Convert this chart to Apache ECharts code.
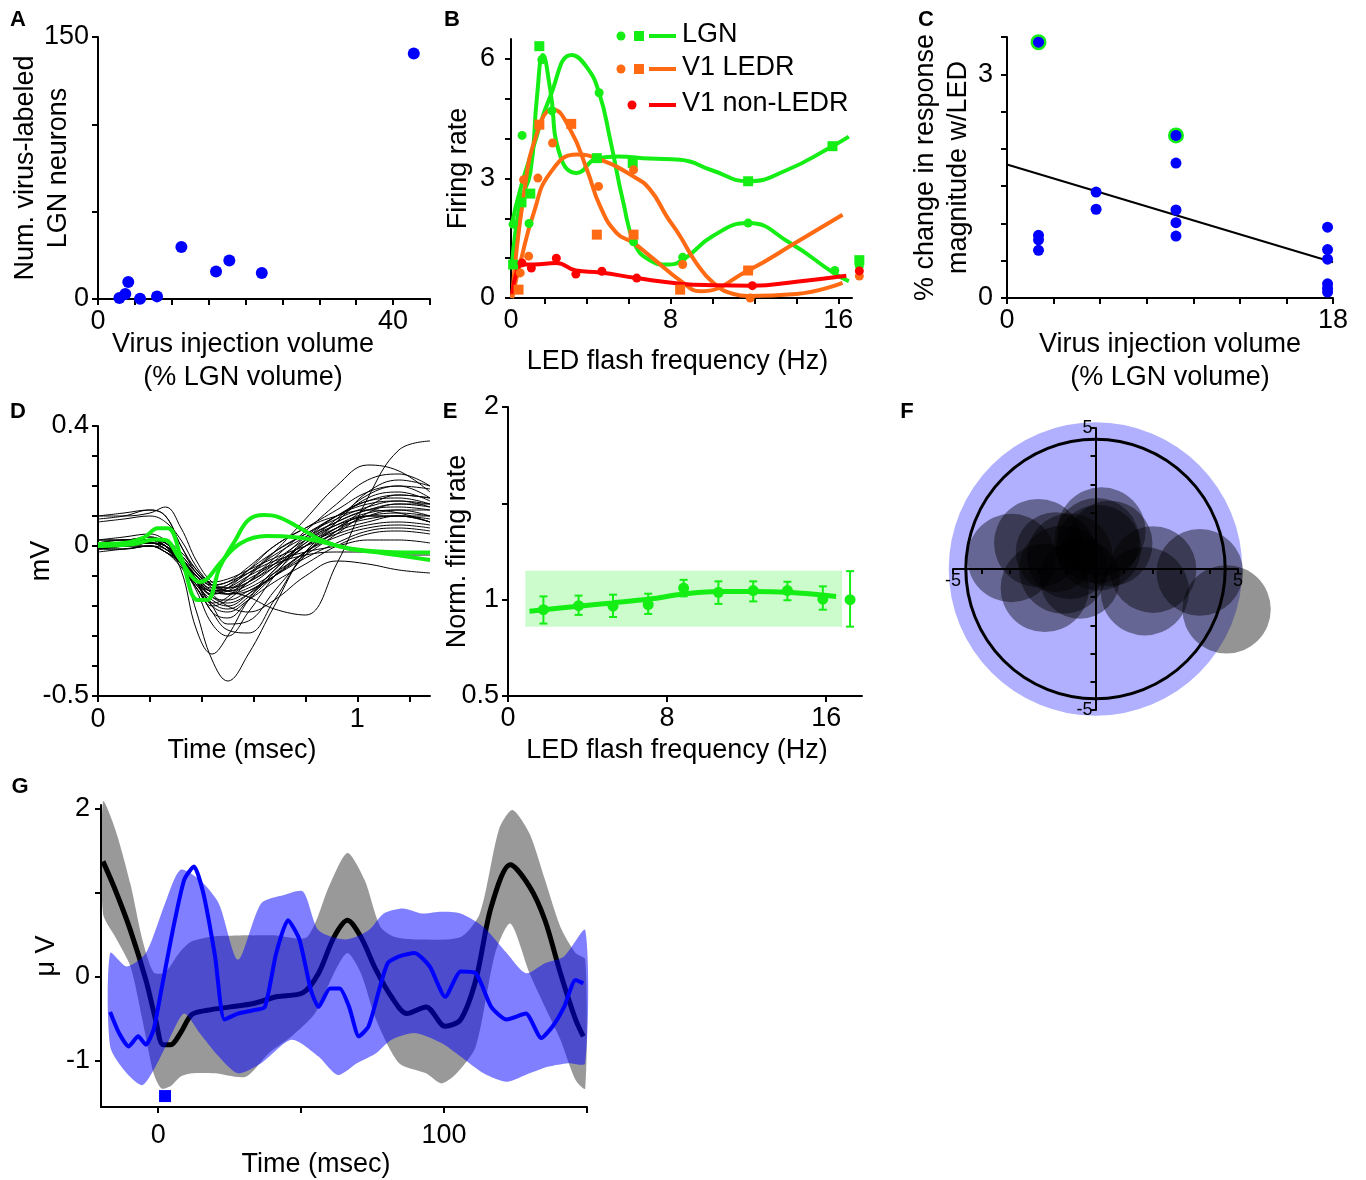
<!DOCTYPE html>
<html>
<head>
<meta charset="utf-8">
<title>LGN / V1 figure</title>
<script src="https://cdn.jsdelivr.net/npm/echarts@6/dist/echarts.min.js"></script>
<style>
  html, body { margin: 0; background: #fff; }
  #chart { width: 1366px; height: 1180px; }
</style>
</head>
<body>
<div id="chart"></div>
<script>
// ---- panel A: injection volume vs labelled neurons
const A_X = [42.8, 11.3, 16.0, 17.8, 22.2, 4.1, 3.7, 2.9, 5.7, 8.0]
const A_Y = [140.5, 29.8, 15.8, 22.1, 14.9, 9.7, 2.9, 0.6, 0.2, 1.5]

// ---- panel B: firing rate vs LED frequency (fits + points)
const B_LGN_FIT1_X = [0.45, 0.84, 1.48, 2.27, 3.3, 4.0, 4.6, 5.13, 5.76, 6.3, 7.0, 7.8, 8.6, 10.0, 11.7, 13.7, 15.8, 16.5]
const B_LGN_FIT1_Y = [1.88, 2.72, 3.81, 5.06, 6.1, 5.8, 5.15, 3.97, 2.38, 1.35, 0.95, 0.84, 0.96, 1.55, 1.88, 1.38, 0.62, 0.42]
const B_LGN_FIT2_X = [0.45, 0.84, 1.32, 1.64, 1.92, 2.27, 2.75, 3.54, 4.5, 5.5, 7.0, 8.46, 10.0, 11.7, 13.5, 15.72, 16.5]
const B_LGN_FIT2_Y = [0.84, 2.38, 3.14, 5.06, 6.1, 5.23, 3.56, 3.14, 3.5, 3.55, 3.5, 3.47, 3.2, 2.93, 3.2, 3.81, 4.05]
const B_LEDR_FIT1_X = [0.45, 1.0, 1.64, 2.4, 3.22, 4.02, 4.65, 5.44, 6.24, 7.03, 8.61, 9.4, 11.7, 14.0, 16.2]
const B_LEDR_FIT1_Y = [0.0, 2.55, 4.14, 4.73, 4.23, 3.22, 2.3, 1.63, 1.38, 1.05, 0.38, 0.17, 0.69, 1.4, 2.09]
const B_LEDR_FIT2_X = [0.45, 0.84, 1.48, 2.27, 3.54, 4.65, 6.24, 7.03, 7.82, 8.46, 9.2, 10.04, 11.0, 11.7, 14.0, 16.2]
const B_LEDR_FIT2_Y = [0.0, 0.88, 2.13, 3.14, 3.6, 3.47, 3.05, 2.72, 2.05, 1.55, 0.9, 0.38, 0.1, 0.05, 0.1, 0.38]
const B_NON_FIT_X = [0.45, 0.7, 0.92, 1.48, 2.56, 3.49, 4.65, 6.39, 8.46, 10.04, 11.9, 14.0, 16.38]
const B_NON_FIT_Y = [0.1, 0.7, 0.84, 0.84, 0.88, 0.69, 0.64, 0.5, 0.36, 0.32, 0.31, 0.41, 0.56]

const B_LGN_DOT_X = [0.5, 0.93, 1.26, 1.87, 2.35, 4.6, 6.24, 8.58, 11.7, 15.83, 17.0]
const B_LGN_DOT_Y = [1.85, 4.08, 1.87, 5.98, 4.7, 5.15, 1.41, 1.02, 1.88, 0.69, 0.8]
const B_LGN_SQ_X = [0.5, 0.9, 1.32, 1.75, 4.49, 6.2, 11.7, 15.72, 17.0]
const B_LGN_SQ_Y = [0.84, 2.4, 2.62, 6.32, 3.51, 3.39, 2.93, 3.81, 0.95]
const B_LEDR_DOT_X = [0.84, 1.0, 1.24, 1.68, 2.38, 4.57, 6.24, 8.58, 11.8, 17.0]
const B_LEDR_DOT_Y = [0.63, 2.97, 1.05, 3.01, 3.89, 2.8, 3.22, 0.84, 0.0, 0.55]
const B_LEDR_SQ_X = [0.76, 1.75, 3.27, 4.49, 6.24, 8.46, 11.7]
const B_LEDR_SQ_Y = [0.21, 4.35, 4.37, 1.59, 1.59, 0.21, 0.69]
const B_NON_DOT_X = [0.92, 1.37, 2.56, 3.49, 4.73, 6.39, 11.9, 17.0]
const B_NON_DOT_Y = [0.88, 0.75, 1.0, 0.6, 0.67, 0.5, 0.31, 0.68]

// ---- panel C: % change vs injection volume
const C_X = [1.74, 1.74, 1.74, 1.74, 4.92, 4.92, 9.33, 9.33, 9.33, 9.33, 9.33, 17.7, 17.7, 17.7, 17.7, 17.7, 17.7]
const C_Y = [3.43, 0.84, 0.78, 0.64, 1.42, 1.19, 2.18, 1.81, 1.18, 1.01, 0.83, 0.95, 0.65, 0.52, 0.19, 0.13, 0.08]
const C_RING_X = [1.74, 9.33]
const C_RING_Y = [3.43, 2.18]
const C_FIT_X = [0, 18]
const C_FIT_Y = [1.79, 0.48]

// ---- panel D: spike waveforms (ms / mV)
const D_T = [0, 0.1, 0.2, 0.26, 0.32, 0.38, 0.44, 0.5, 0.58, 0.68, 0.8, 0.92, 1.04, 1.16, 1.28]
const D_TRACES = [
  [0.1, 0.11, 0.12, 0.1, 0.0, -0.08, -0.13, -0.15, -0.17, -0.21, -0.23, -0.06, 0.16, 0.32, 0.35],
  [0.09, 0.1, 0.12, 0.1, 0.0, -0.09, -0.13, -0.14, -0.1, -0.02, 0.09, 0.2, 0.27, 0.25, 0.18],
  [0.0, 0.0, 0.01, 0.0, -0.06, -0.22, -0.38, -0.45, -0.36, -0.2, -0.02, 0.06, 0.1, 0.1, 0.08],
  [0.01, 0.01, 0.02, 0.0, -0.08, -0.28, -0.36, -0.3, -0.18, -0.08, 0.0, 0.05, 0.08, 0.1, 0.1],
  [-0.01, 0.0, 0.0, -0.02, -0.06, -0.14, -0.22, -0.28, -0.29, -0.18, -0.02, 0.06, 0.1, 0.1, 0.08],
  [0.0, 0.01, 0.02, 0.0, -0.06, -0.14, -0.2, -0.18, -0.12, -0.04, 0.05, 0.14, 0.22, 0.24, 0.2],
  [0.02, 0.02, 0.03, 0.01, -0.05, -0.12, -0.16, -0.14, -0.08, 0.0, 0.06, 0.12, 0.18, 0.2, 0.16],
  [-0.01, 0.0, 0.01, -0.01, -0.06, -0.13, -0.18, -0.2, -0.16, -0.08, 0.02, 0.08, 0.12, 0.13, 0.12],
  [0.0, 0.0, 0.01, 0.0, -0.04, -0.1, -0.15, -0.16, -0.12, -0.05, 0.02, 0.07, 0.1, 0.11, 0.1],
  [0.01, 0.01, 0.02, 0.0, -0.05, -0.11, -0.14, -0.13, -0.09, -0.03, 0.03, 0.08, 0.12, 0.14, 0.13],
  [-0.02, -0.01, 0.0, -0.02, -0.07, -0.14, -0.19, -0.17, -0.1, -0.02, 0.04, 0.09, 0.13, 0.15, 0.14],
  [0.0, 0.01, 0.02, 0.01, -0.03, -0.09, -0.12, -0.11, -0.08, -0.04, 0.0, 0.04, 0.07, 0.08, 0.07],
  [0.01, 0.02, 0.02, 0.0, -0.05, -0.12, -0.22, -0.24, -0.18, -0.1, -0.02, 0.03, 0.06, 0.07, 0.06],
  [0.0, 0.0, 0.0, -0.02, -0.06, -0.12, -0.17, -0.18, -0.15, -0.1, -0.04, 0.01, 0.05, 0.06, 0.05],
  [-0.01, -0.01, 0.0, -0.02, -0.05, -0.1, -0.13, -0.12, -0.09, -0.05, -0.02, 0.0, 0.02, 0.02, 0.01],
  [0.01, 0.01, 0.01, 0.0, -0.04, -0.1, -0.16, -0.2, -0.22, -0.18, -0.1, -0.05, -0.06, -0.08, -0.09],
  [0.0, 0.0, 0.01, -0.01, -0.05, -0.11, -0.15, -0.14, -0.1, -0.06, -0.03, -0.02, -0.02, -0.03, -0.03],
  [0.02, 0.03, 0.04, 0.02, -0.02, -0.08, -0.13, -0.15, -0.13, -0.07, 0.01, 0.07, 0.11, 0.12, 0.1],
  [0.0, 0.01, 0.02, 0.0, -0.06, -0.13, -0.19, -0.21, -0.17, -0.09, 0.0, 0.06, 0.09, 0.1, 0.09],
  [-0.01, 0.0, 0.02, 0.01, -0.03, -0.09, -0.14, -0.16, -0.14, -0.09, -0.02, 0.05, 0.13, 0.17, 0.16],
  [0.0, 0.01, 0.02, 0.0, -0.04, -0.11, -0.17, -0.19, -0.16, -0.1, -0.03, 0.04, 0.11, 0.14, 0.14],
  [0.01, 0.02, 0.02, 0.01, -0.04, -0.1, -0.13, -0.12, -0.07, 0.0, 0.06, 0.1, 0.12, 0.11, 0.08],
  [0.1, 0.1, 0.11, 0.13, 0.06, -0.05, -0.12, -0.14, -0.12, -0.06, 0.03, 0.1, 0.14, 0.15, 0.13],
  [0.08, 0.09, 0.1, 0.08, 0.02, -0.07, -0.13, -0.16, -0.15, -0.1, -0.02, 0.05, 0.1, 0.12, 0.12],
  [0.0, 0.0, 0.01, -0.01, -0.06, -0.15, -0.26, -0.3, -0.22, -0.1, 0.02, 0.1, 0.15, 0.16, 0.14],
  [0.01, 0.01, 0.02, 0.0, -0.05, -0.12, -0.2, -0.26, -0.25, -0.15, -0.03, 0.08, 0.16, 0.18, 0.15],
  [0.0, 0.0, 0.01, 0.0, -0.04, -0.12, -0.16, -0.15, -0.11, -0.06, 0.01, 0.09, 0.17, 0.2, 0.19],
  [-0.01, -0.01, 0.0, -0.01, -0.05, -0.12, -0.15, -0.13, -0.08, -0.02, 0.04, 0.1, 0.15, 0.17, 0.16],
  [0.0, 0.0, 0.02, 0.0, -0.05, -0.12, -0.2, -0.22, -0.18, -0.12, -0.06, 0.0, 0.04, 0.05, 0.04],
  [0.02, 0.02, 0.03, 0.01, -0.04, -0.11, -0.15, -0.15, -0.12, -0.07, 0.0, 0.08, 0.18, 0.22, 0.2]
]
const D_GREEN1_T = [0, 0.1, 0.18, 0.23, 0.27, 0.32, 0.385, 0.42, 0.47, 0.53, 0.58, 0.64, 0.69, 0.78, 0.86, 0.96, 1.1, 1.28]
const D_GREEN1_V = [0.007, 0.01, 0.03, 0.059, 0.059, -0.036, -0.18, -0.18, -0.07, 0.02, 0.087, 0.103, 0.098, 0.059, 0.02, -0.008, -0.024, -0.047]
const D_GREEN2_T = [0, 0.14, 0.22, 0.26, 0.31, 0.36, 0.39, 0.42, 0.47, 0.55, 0.65, 0.76, 0.86, 0.97, 1.1, 1.28]
const D_GREEN2_V = [0, 0.007, 0.022, 0.02, -0.036, -0.1, -0.12, -0.11, -0.058, 0.009, 0.033, 0.029, 0.014, -0.008, -0.019, -0.022]

// ---- panel E: normalised firing rate
const E_X = [1.78, 3.55, 5.28, 7.05, 8.83, 10.58, 12.33, 14.05, 15.83, 17.2]
const E_Y = [0.948, 0.969, 0.966, 0.974, 1.06, 1.038, 1.047, 1.047, 1.003, 1.0]
const E_LO = [0.876, 0.921, 0.91, 0.926, 1.017, 0.978, 0.991, 0.997, 0.948, 0.86]
const E_HI = [1.017, 1.021, 1.026, 1.031, 1.103, 1.095, 1.095, 1.093, 1.069, 1.148]
const E_FIT_X = [1.08, 3.55, 5.25, 7.1, 8.83, 10.58, 12.33, 14.05, 16.5]
const E_FIT_Y = [0.94, 0.966, 0.983, 1.003, 1.029, 1.043, 1.043, 1.038, 1.017]
const E_BAND_X = [0.87, 16.8]
const E_BAND_Y = [0.86, 1.15]

// ---- panel F: receptive fields (centre x, centre y, radius, deg)
const F_X = [4.6, 3.66, 2.02, 1.73, 0.21, 0.05, 0.1, -2.95, -2.01, -1.78, -1.13, -0.9, -0.55, -1.4, 0.5]
const F_Y = [-1.43, -0.12, -0.02, -0.79, 1.33, 1.0, 0.75, 0.39, 0.92, -0.67, -0.02, 0.45, -0.35, 0.6, 0.9]
const F_R = [1.55, 1.52, 1.52, 1.55, 1.55, 1.5, 1.5, 1.55, 1.55, 1.55, 1.55, 1.5, 1.4, 1.4, 1.5]
const F_DISK_R = 5.15
const F_RING_R = 4.55

// ---- panel G: LFP traces (msec / uV)
const G_BLACK_X = [-19.3, -15, -9.7, -4.3, -0.9, 1.7, 4.4, 7.8, 11.8, 17.2, 25.2, 33.3, 41.3, 50.7, 56.1, 61.5, 66.2, 70.9, 76.2, 81.6, 87, 93.7, 100.4, 105.8, 111.1, 116.5, 123.2, 129.9, 135.3, 140.7, 146, 148.7]
const G_BLACK_Y = [1.37, 1.03, 0.55, -0.04, -0.51, -0.81, -0.81, -0.67, -0.45, -0.4, -0.36, -0.32, -0.24, -0.19, 0.04, 0.47, 0.67, 0.47, 0.08, -0.24, -0.44, -0.36, -0.59, -0.51, -0.04, 0.83, 1.33, 1.07, 0.67, 0.04, -0.51, -0.71]
const G_GRAY_UP_X = [-19.3, -15, -9.7, -5.6, -1.6, 2.4, 7.8, 11.8, 19.9, 28.6, 33.3, 41.3, 52.1, 60.1, 66.2, 72.2, 77.6, 82.9, 92.3, 105.8, 112.5, 119.2, 123.9, 129.9, 135.3, 140.7, 146, 149.4]
const G_GRAY_UP_Y = [2.08, 1.75, 1.1, 0.45, 0.05, 0.05, 0.3, 0.42, 0.48, 0.49, 0.49, 0.49, 0.47, 1.1, 1.47, 1.15, 0.6, 0.47, 0.44, 0.47, 0.75, 1.75, 1.98, 1.7, 1.15, 0.59, 0.28, 0.2]
const G_GRAY_LO_X = [-19.3, -15, -9.7, -5.6, -1.6, 1.1, 4.4, 7.8, 11.8, 19.9, 30.6, 38.7, 46.7, 54.8, 61.5, 66.2, 70.9, 76.2, 84.3, 93.7, 99.1, 104.4, 111.1, 117.9, 123.2, 129.9, 135.3, 140.7, 146, 149.4]
const G_GRAY_LO_Y = [0.75, 0.47, 0.12, -0.5, -1.15, -1.33, -1.3, -1.19, -1.15, -1.15, -1.19, -0.91, -0.71, -0.44, 0.04, 0.28, 0.04, -0.51, -1.03, -1.15, -1.27, -1.15, -0.83, 0.28, 0.63, 0.04, -0.36, -0.75, -1.23, -1.33]
const G_BLUE_X = [-16.8, -13.7, -10.3, -7, -4.3, -1.6, 1.1, 5.1, 9.1, 12.5, 15.8, 19.9, 23.2, 27.9, 33.3, 37.3, 41.3, 45.4, 49.4, 53.4, 56.1, 60.1, 63.5, 66.8, 70.2, 73.6, 77.6, 80.3, 84.3, 89.7, 95, 100.4, 105.8, 111.1, 116.5, 121.9, 128.6, 134, 138, 142, 146, 148.7]
const G_BLUE_Y = [-0.42, -0.67, -0.83, -0.71, -0.81, -0.63, -0.16, 0.55, 1.15, 1.31, 0.99, 0.24, -0.51, -0.44, -0.4, -0.36, 0.28, 0.67, 0.44, -0.16, -0.36, -0.14, -0.14, -0.36, -0.71, -0.59, -0.12, 0.16, 0.24, 0.28, 0.12, -0.24, 0.06, 0.04, -0.36, -0.51, -0.44, -0.73, -0.59, -0.36, -0.04, -0.08]
const G_BLUE_UP_X = [-16.8, -11, -4.3, 2.4, 7.8, 14.5, 21.2, 27.9, 36, 44, 50.7, 56.1, 65.5, 73.6, 78.9, 85.6, 92.3, 99.1, 105.8, 113.8, 121.9, 128.6, 135.3, 142, 149.4]
const G_BLUE_UP_Y = [0.28, 0.12, 0.28, 0.87, 1.27, 1.15, 0.87, 0.2, 0.87, 0.97, 1.01, 0.55, 0.44, 0.55, 0.75, 0.81, 0.75, 0.77, 0.75, 0.59, 0.28, 0.04, 0.16, 0.24, 0.55]
const G_BLUE_LO_X = [-16.8, -11, -5.6, -1.6, 3.8, 9.1, 14.5, 21.2, 27.9, 36, 46.7, 56.1, 62.8, 69.5, 76.2, 81.6, 89.7, 99.1, 105.8, 113.8, 121.9, 129.9, 136.6, 143.4, 149.4]
const G_BLUE_LO_Y = [-0.83, -1.15, -1.29, -1.11, -0.75, -0.44, -0.67, -0.95, -1.15, -1.03, -0.75, -0.95, -1.17, -1.03, -0.91, -0.75, -0.67, -0.79, -0.95, -1.15, -1.25, -1.15, -1.07, -1.03, -1.03]
const G_STIM_X = [2.4]
const G_STIM_Y = [-1.42]

const FONT = 'Liberation Sans, Arial, Helvetica, sans-serif'
const BLUE = '#0000ff'
const GREEN = '#14ee14'
const ORANGE = '#ff6a13'
const RED = '#ff0000'

const zip = (xs, ys) => xs.map((x, i) => [x, ys[i]])

// axis factory, every panel shares the same look
function mkAxis(gi, min, max, ticks, labels, o = {}) {
  const names = o.names || {}
  return {
    type: 'value', gridIndex: gi, min: min, max: max, offset: o.offset || 0,
    axisLine: { show: true, onZero: false, lineStyle: { color: '#000', width: 2 } },
    axisTick: { show: true, customValues: ticks, length: o.tickLen || 6, lineStyle: { color: '#000', width: 2 } },
    axisLabel: {
      show: true, customValues: labels, margin: o.margin || 10, color: '#000',
      fontSize: o.fontSize || 27, fontFamily: FONT,
      formatter: v => (names[v] !== undefined ? names[v] : String(v)),
      rich: o.rich
    },
    splitLine: { show: false },
    name: o.name || '', nameLocation: 'middle', nameGap: o.nameGap || 20, nameRotate: o.nameRotate,
    nameMoveOverlap: false,
    nameTextStyle: { color: '#000', fontSize: 27, fontFamily: FONT, lineHeight: 33, padding: o.namePad || 0 }
  }
}

const grids = [
  { left: 98, top: 37, width: 332, height: 262 },     // A
  { left: 511, top: 39, width: 341, height: 259 },    // B
  { left: 1007, top: 37, width: 326, height: 261 },   // C
  { left: 98, top: 426, width: 332, height: 270 },    // D
  { left: 508, top: 407, width: 354, height: 289 },   // E
  { left: 953, top: 428, width: 285, height: 282 },   // F
  { left: 101, top: 805, width: 486, height: 302 }    // G
].map(g => Object.assign({ outerBoundsMode: 'none', containLabel: false }, g))

const F_TICKS = [-5, -4, -3, -2, -1, 0, 1, 2, 3, 4, 5]
const F_RICH = { s: { fontSize: 9, fontFamily: FONT, color: '#000' } }

const xAxes = [
  mkAxis(0, 0, 45, [0, 5, 10, 15, 20, 25, 30, 35, 40, 45], [0, 40], { margin: 9, name: 'Virus injection volume\n(% LGN volume)', nameGap: 29, namePad: [0, 42, 0, 0] }),
  mkAxis(1, 0.4, 16.65, [2, 4, 6, 8, 10, 12, 14, 16], [0.4, 8, 16], { margin: 9, names: { 0.4: '0' }, name: 'LED flash frequency (Hz)', nameGap: 47, namePad: [0, 8, 0, 0] }),
  mkAxis(2, 0, 18, [0, 18 / 7, 36 / 7, 54 / 7, 72 / 7, 90 / 7, 108 / 7, 18], [0, 18], { margin: 9, names: { 0: '0', 18: '18' }, name: 'Virus injection volume\n(% LGN volume)', nameGap: 30 }),
  mkAxis(3, 0, 1.28, [0, 0.2, 0.4, 0.6, 0.8, 1.0, 1.2], [0, 1], { margin: 10, name: 'Time (msec)', nameGap: 38, namePad: [0, 44, 0, 0] }),
  mkAxis(4, 0, 17.8, [0, 8, 16], [0, 8, 16], { margin: 9, name: 'LED flash frequency (Hz)', nameGap: 38, namePad: [0, 16, 0, 0] }),
  mkAxis(5, -5, 5, F_TICKS, [-5, 0, 5], { offset: -141, fontSize: 18, margin: 3, tickLen: 5, names: { 0: '{s|0}' }, rich: F_RICH }),
  mkAxis(6, -20, 150, [0, 50, 100, 150], [0, 100], { margin: 15, name: 'Time (msec)', nameGap: 41, namePad: [0, 56, 0, 0] })
]

const yAxes = [
  mkAxis(0, 0, 150, [0, 50, 100, 150], [0, 150], { margin: 9, name: 'Num. virus-labeled\nLGN neurons', nameGap: 23, nameRotate: 90 }),
  mkAxis(1, 0, 6.5, [0, 1, 2, 3, 4, 5, 6], [0, 3, 6], { margin: 16, name: 'Firing rate', nameGap: 36, nameRotate: 90 }),
  mkAxis(2, 0, 3.5, [0, 0.5, 1, 1.5, 2, 2.5, 3, 3.5], [0, 3], { margin: 14, name: '% change in response\nmagnitude w/LED', nameGap: 32, nameRotate: 90 }),
  mkAxis(3, -0.5, 0.4, [-0.5, -0.4, -0.3, -0.2, -0.1, 0, 0.1, 0.2, 0.3, 0.4], [-0.5, 0, 0.4], { margin: 9, name: 'mV', nameGap: 40, nameRotate: 90 }),
  mkAxis(4, 0.5, 2, [0.5, 1, 1.5, 2], [0.5, 1, 2], { margin: 9, name: 'Norm. firing rate', nameGap: 34, nameRotate: 90 }),
  mkAxis(5, -5, 5, F_TICKS, [-5, 0, 5], { offset: -142.5, fontSize: 18, margin: 3, tickLen: 5, names: { 0: '{s|0}' }, rich: F_RICH }),
  mkAxis(6, -1.55, 2.04, [-1, 0, 1, 2], [-1, 0, 2], { margin: 11, name: 'μ V', nameGap: 38, nameRotate: 90 })
]

function dots(gi, xs, ys, color, size, symbol) {
  return {
    type: 'scatter', xAxisIndex: gi, yAxisIndex: gi, data: zip(xs, ys),
    symbol: symbol || 'circle', symbolSize: size, clip: false,
    itemStyle: { color: color, opacity: 1 }, z: 5
  }
}

function curve(gi, xs, ys, color, width, smooth) {
  return {
    type: 'line', xAxisIndex: gi, yAxisIndex: gi, data: zip(xs, ys),
    symbol: 'none', smooth: smooth, clip: false,
    lineStyle: { color: color, width: width }, z: 3
  }
}

// filled band between an upper and a lower edge, in data coordinates
function band(gi, upX, upY, loX, loY, fill) {
  return {
    type: 'custom', xAxisIndex: gi, yAxisIndex: gi, data: [[upX[0], upY[0]]], clip: false, z: 1,
    renderItem(params, api) {
      const pts = []
      for (let i = 0; i < upX.length; i++) pts.push(api.coord([upX[i], upY[i]]))
      for (let i = loX.length - 1; i >= 0; i--) pts.push(api.coord([loX[i], loY[i]]))
      return { type: 'polygon', shape: { points: pts, smooth: 0.25 }, style: { fill: fill } }
    }
  }
}

function discs(gi, xs, ys, rs, style, z) {
  return {
    type: 'custom', xAxisIndex: gi, yAxisIndex: gi, clip: false, z: z,
    data: xs.map((x, i) => [x, ys[i], rs[i]]),
    renderItem(params, api) {
      const c = api.coord([api.value(0), api.value(1)])
      const s = api.size([api.value(2), api.value(2)])
      return { type: 'circle', shape: { cx: c[0], cy: c[1], r: s[0] }, style: style }
    }
  }
}

const series = [
  // A
  dots(0, A_X, A_Y, BLUE, 12),
  // B
  curve(1, B_LGN_FIT1_X, B_LGN_FIT1_Y, GREEN, 4, 0.5),
  curve(1, B_LGN_FIT2_X, B_LGN_FIT2_Y, GREEN, 4, 0.5),
  curve(1, B_LEDR_FIT1_X, B_LEDR_FIT1_Y, ORANGE, 4, 0.5),
  curve(1, B_LEDR_FIT2_X, B_LEDR_FIT2_Y, ORANGE, 4, 0.5),
  curve(1, B_NON_FIT_X, B_NON_FIT_Y, RED, 4, 0.5),
  dots(1, B_LGN_DOT_X, B_LGN_DOT_Y, GREEN, 9),
  dots(1, B_LGN_SQ_X, B_LGN_SQ_Y, GREEN, 10, 'rect'),
  dots(1, B_LEDR_DOT_X, B_LEDR_DOT_Y, ORANGE, 9),
  dots(1, B_LEDR_SQ_X, B_LEDR_SQ_Y, ORANGE, 10, 'rect'),
  dots(1, B_NON_DOT_X, B_NON_DOT_Y, RED, 9),
  // C
  curve(2, C_FIT_X, C_FIT_Y, '#000', 2, false),
  Object.assign(dots(2, C_RING_X, C_RING_Y, BLUE, 13), { itemStyle: { color: BLUE, borderColor: GREEN, borderWidth: 3, opacity: 1 }, z: 4 }),
  dots(2, C_X, C_Y, BLUE, 11),
  // D
  ...D_TRACES.map(tr => curve(3, D_T, tr, '#000', 1, 0.4)),
  curve(3, D_GREEN1_T, D_GREEN1_V, GREEN, 4, 0.4),
  curve(3, D_GREEN2_T, D_GREEN2_V, GREEN, 4, 0.4),
  // E
  {
    type: 'custom', xAxisIndex: 4, yAxisIndex: 4, z: 1,
    data: [[E_BAND_X[0], E_BAND_Y[0], E_BAND_X[1], E_BAND_Y[1]]],
    renderItem(params, api) {
      const p0 = api.coord([api.value(0), api.value(3)])
      const p1 = api.coord([api.value(2), api.value(1)])
      return { type: 'rect', shape: { x: p0[0], y: p0[1], width: p1[0] - p0[0], height: p1[1] - p0[1] }, style: { fill: '#ccfccc' } }
    }
  },
  curve(4, E_FIT_X, E_FIT_Y, GREEN, 5, 0.4),
  {
    type: 'custom', xAxisIndex: 4, yAxisIndex: 4, z: 4,
    data: E_X.map((x, i) => [x, E_Y[i], E_LO[i], E_HI[i]]),
    renderItem(params, api) {
      const lo = api.coord([api.value(0), api.value(2)])
      const hi = api.coord([api.value(0), api.value(3)])
      const st = { stroke: GREEN, lineWidth: 2 }
      return {
        type: 'group', children: [
          { type: 'line', shape: { x1: lo[0], y1: lo[1], x2: hi[0], y2: hi[1] }, style: st },
          { type: 'line', shape: { x1: lo[0] - 4, y1: lo[1], x2: lo[0] + 4, y2: lo[1] }, style: st },
          { type: 'line', shape: { x1: hi[0] - 4, y1: hi[1], x2: hi[0] + 4, y2: hi[1] }, style: st }
        ]
      }
    }
  },
  dots(4, E_X, E_Y, GREEN, 11),
  // F
  discs(5, [0], [0], [F_DISK_R], { fill: '#b0b0ff' }, 0),
  discs(5, F_X, F_Y, F_R, { fill: 'rgba(0,0,0,0.42)' }, 2),
  discs(5, [0], [0], [F_RING_R], { fill: 'none', stroke: '#000', lineWidth: 3 }, 3),
  // G
  band(6, G_GRAY_UP_X, G_GRAY_UP_Y, G_GRAY_LO_X, G_GRAY_LO_Y, 'rgba(0,0,0,0.4)'),
  Object.assign(curve(6, G_BLACK_X, G_BLACK_Y, '#000', 5, 0.3), { z: 2 }),
  Object.assign(band(6, G_BLUE_UP_X, G_BLUE_UP_Y, G_BLUE_LO_X, G_BLUE_LO_Y, 'rgba(0,0,255,0.5)'), { z: 3 }),
  Object.assign(curve(6, G_BLUE_X, G_BLUE_Y, BLUE, 4, 0.2), { z: 4 }),
  dots(6, G_STIM_X, G_STIM_Y, BLUE, 12, 'rect')
]

// legend of panel B and panel letters
function legendRow(y, color, withSquare, text, dotX) {
  const els = [
    { type: 'circle', shape: { cx: dotX, cy: y, r: 4.5 }, style: { fill: color } },
    { type: 'line', shape: { x1: 649, y1: y, x2: 676, y2: y }, style: { stroke: color, lineWidth: 4 } },
    { type: 'text', x: 682, y: y - 1, style: { text: text, fill: '#000', fontSize: 27, fontFamily: FONT, verticalAlign: 'middle' } }
  ]
  if (withSquare) els.push({ type: 'rect', shape: { x: 634, y: y - 5, width: 10, height: 10 }, style: { fill: color } })
  return els
}
const letters = [['A', 18, 20], ['B', 452, 20], ['C', 926, 20], ['D', 18, 412], ['E', 450, 412], ['F', 907, 412], ['G', 20, 787]]
const graphic = [
  ...legendRow(36, GREEN, true, 'LGN', 621),
  ...legendRow(69, ORANGE, true, 'V1 LEDR', 621),
  ...legendRow(105, RED, false, 'V1 non-LEDR', 632),
  ...letters.map(l => ({
    type: 'text', x: l[1], y: l[2],
    style: { text: l[0], fill: '#000', fontSize: 22, fontWeight: 'bold', fontFamily: FONT, align: 'center', verticalAlign: 'middle' }
  }))
]

const chart = echarts.init(document.getElementById('chart'), null, { renderer: 'canvas' })
chart.setOption({
  backgroundColor: '#fff',
  animation: false,
  grid: grids,
  xAxis: xAxes,
  yAxis: yAxes,
  series: series,
  graphic: graphic
})
</script>
</body>
</html>
